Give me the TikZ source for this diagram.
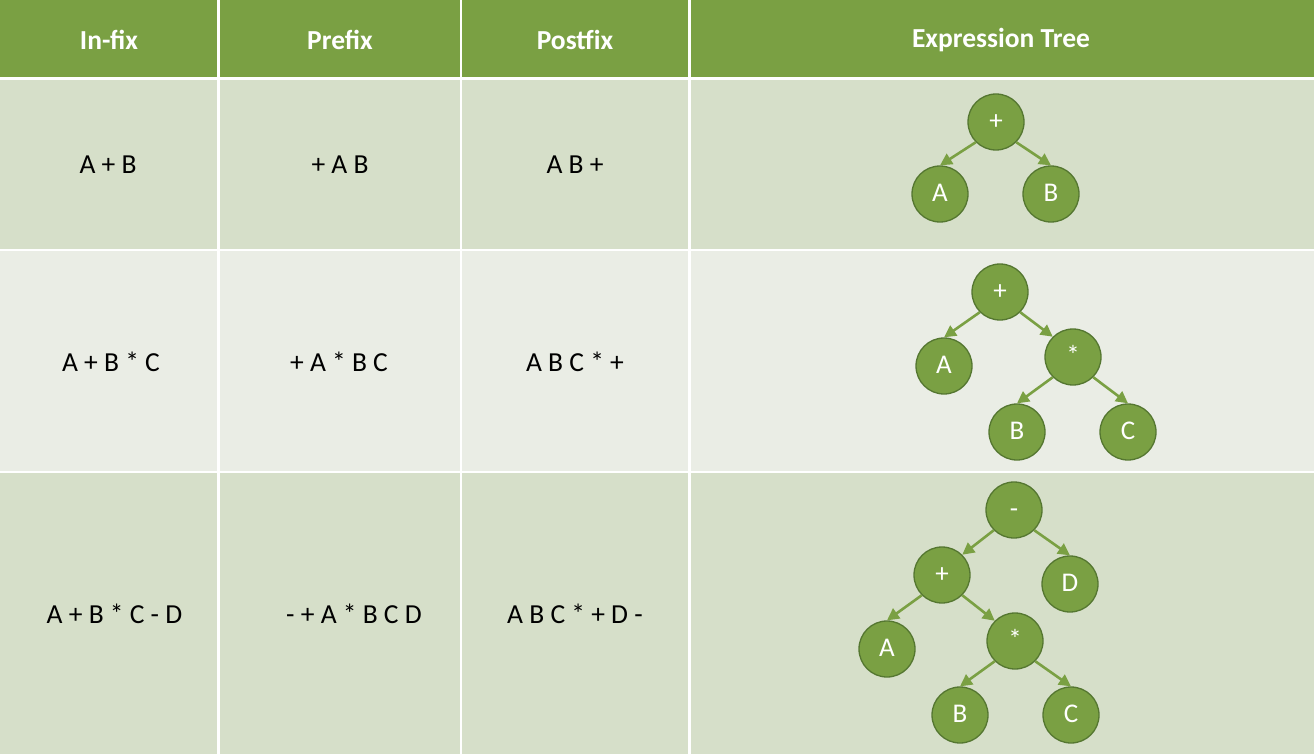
\documentclass[tikz,border=0pt]{standalone}
\usepackage{fontspec}
\setmainfont{Carlito}
\usetikzlibrary{arrows.meta}
\definecolor{hdrgreen}{HTML}{7AA043}
\definecolor{rowdark}{HTML}{D6DFC9}
\definecolor{rowlight}{HTML}{EAEDE5}
\definecolor{nodefill}{HTML}{7AA043}
\definecolor{nodeedge}{HTML}{557731}
\definecolor{edgegreen}{HTML}{7AA043}
\tikzset{
  hdrtext/.style={font=\fontsize{27.5}{32}\selectfont\bfseries, text=white, anchor=center},
  celltext/.style={font=\fontsize{27.5}{32}\selectfont, text=black, anchor=center},
  treenode/.style={circle, minimum size=56pt, inner sep=0pt, fill=nodefill, draw=nodeedge, line width=1.3pt, text=white, font=\fontsize{27}{30}\selectfont, text height=15pt, text depth=0pt},
  treeedge/.style={draw=edgegreen, line width=2.6pt, -{Triangle[length=12pt,width=12pt]}},
  gridline/.style={draw=white, line width=2.4pt}
}
\begin{document}
\begin{tikzpicture}[x=1pt,y=-1pt]
\useasboundingbox (0,0) rectangle (1314,754);
\fill[white] (0,0) rectangle (1314,754);
% rows
\fill[hdrgreen] (0,0) rectangle (1314,77);
\fill[rowdark] (0,80) rectangle (1314,250);
\fill[rowlight] (0,250) rectangle (1314,472);
\fill[rowdark] (0,472) rectangle (1314,754);
% grid lines
\draw[white, line width=3pt] (0,78.5) -- (1314,78.5);
\draw[gridline] (0,250) -- (1314,250);
\draw[gridline] (0,472) -- (1314,472);
\draw[gridline] (218.5,0) -- (218.5,754);
\draw[gridline] (461,0) -- (461,754);
\draw[gridline] (689.5,0) -- (689.5,754);
% header
\node[hdrtext] (h1) at (109,40) {In-fix};
\node[hdrtext] (h2) at (340,40) {Prefix};
\node[hdrtext] (h3) at (575,40) {Postfix};
\node[hdrtext] (h4) at (1001,40) {Expression Tree};
% cells
\node[celltext] (i1) at (108,165) {A + B};
\node[celltext] (p1) at (340,165) {+ A B};
\node[celltext] (q1) at (575,165) {A B +};
\node[celltext] (i2) at (111,362) {A + B * C};
\node[celltext] (p2) at (339,362) {+ A * B C};
\node[celltext] (q2) at (575,362) {A B C * +};
\node[celltext] (i3) at (114.5,614) {A + B * C - D};
\node[celltext] (p3) at (354,614) {- + A * B C D};
\node[celltext] (q3) at (575,614) {A B C * + D -};
% tree 1
\node[treenode] (t1r) at (996,122) {+};
\node[treenode] (t1a) at (940,194) {A};
\node[treenode] (t1b) at (1051,194) {B};
\draw[treeedge] (t1r.-135) -- (t1a.north);
\draw[treeedge] (t1r.-45) -- (t1b.north);
% tree 2
\node[treenode] (t2r) at (1000,292) {+};
\node[treenode] (t2a) at (944,366) {A};
\node[treenode] (t2m) at (1073,357) {*};
\node[treenode] (t2b) at (1017,432) {B};
\node[treenode] (t2c) at (1128,432) {C};
\draw[treeedge] (t2r.-135) -- (t2a.north);
\draw[treeedge] (t2r.-45) -- (t2m.135);
\draw[treeedge] (t2m.-135) -- (t2b.north);
\draw[treeedge] (t2m.-45) -- (t2c.north);
% tree 3
\node[treenode] (t3r) at (1014,510) {-};
\node[treenode] (t3p) at (942,575) {+};
\node[treenode] (t3d) at (1070,584) {D};
\node[treenode] (t3a) at (887,649) {A};
\node[treenode] (t3m) at (1015,641) {*};
\node[treenode] (t3b) at (960,715) {B};
\node[treenode] (t3c) at (1071,715) {C};
\draw[treeedge] (t3r.-135) -- (t3p.45);
\draw[treeedge] (t3r.-45) -- (t3d.north);
\draw[treeedge] (t3p.-135) -- (t3a.north);
\draw[treeedge] (t3p.-45) -- (t3m.135);
\draw[treeedge] (t3m.-135) -- (t3b.north);
\draw[treeedge] (t3m.-45) -- (t3c.north);
\end{tikzpicture}
\end{document}
